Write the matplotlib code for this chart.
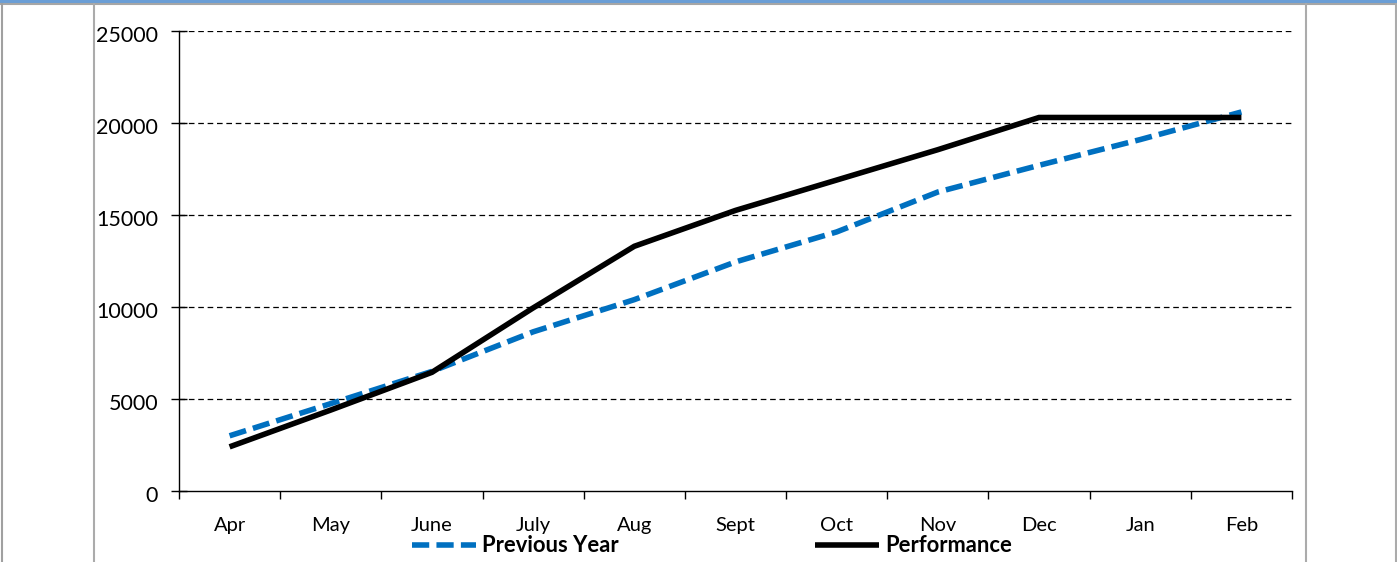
import matplotlib
matplotlib.use("Agg")
import matplotlib.pyplot as plt
from matplotlib.lines import Line2D
from matplotlib.patches import Rectangle
from matplotlib.ticker import FixedLocator, NullFormatter
from matplotlib.transforms import ScaledTranslation

plt.rcParams['font.family'] = ['Lato', 'DejaVu Sans']

months = ["Apr", "May", "June", "July", "Aug", "Sept", "Oct", "Nov", "Dec", "Jan", "Feb"]
previous_year = [3000, 4750, 6500, 8650, 10400, 12450, 14080, 16250, 17700, 19100, 20600]
performance = [2400, 4400, 6450, 9950, 13300, 15250, 16900, 18550, 20300, 20300, 20300]
y_ticks = [0, 5000, 10000, 15000, 20000, 25000]

W, H = 1397, 562
fig = plt.figure(figsize=(W / 100, H / 100), dpi=100)

def fx(px):
    return px / W

def fy(py):
    return 1 - py / H

# Worksheet-style frame around the chart
fig.add_artist(Rectangle((0, fy(3)), 1, 3 / H, transform=fig.transFigure,
                         facecolor="#6A9ED6", edgecolor="none"))
fig.add_artist(Line2D([0, 1], [fy(4), fy(4)], transform=fig.transFigure,
                      color="#A6A6A6", lw=1.5))
for xpx, col in [(2, "#A0A0A0"), (93.5, "#ABABAB"), (1305.5, "#ABABAB"), (1395.5, "#ABABAB")]:
    fig.add_artist(Line2D([fx(xpx), fx(xpx)], [0, fy(4)], transform=fig.transFigure,
                          color=col, lw=1.5))

ax = fig.add_axes([fx(179), fy(491), fx(1292) - fx(179), fy(31) - fy(491)])

LW = 4.0
x = list(range(len(months)))
ax.plot(x, previous_year, color="#0070C0", lw=LW, dashes=(3.1, 1.3),
        solid_capstyle="butt", dash_capstyle="butt", label="Previous Year", zorder=3)
ax.plot(x, performance, color="black", lw=LW, solid_capstyle="butt",
        solid_joinstyle="miter", label="Performance", zorder=4)

ax.set_xlim(-0.5, len(months) - 0.5)
ax.set_ylim(0, 25000)

ax.xaxis.set_major_locator(FixedLocator([i - 0.5 for i in range(len(months) + 1)]))
ax.xaxis.set_major_formatter(NullFormatter())
ax.xaxis.set_minor_locator(FixedLocator(x))
ax.set_xticklabels(months, minor=True)
ax.tick_params(axis="x", which="major", direction="out", length=6, width=1, color="black")
ax.tick_params(axis="x", which="minor", length=0, pad=19, labelsize=14.5)

ax.set_yticks(y_ticks)
ax.set_yticklabels([str(v) for v in y_ticks])
ax.tick_params(axis="y", direction="inout", length=12, width=1, color="black",
               pad=9, labelsize=15.5)
# value labels sit a little below their tick marks
shift = ScaledTranslation(0, -3 / 100, fig.dpi_scale_trans)
for lbl in ax.get_yticklabels():
    lbl.set_transform(lbl.get_transform() + shift)

for v in y_ticks[1:]:
    ax.axhline(v, color="black", lw=0.9, dashes=(4.5, 3), zorder=1)

for s in ["top", "right"]:
    ax.spines[s].set_visible(False)
for s in ["left", "bottom"]:
    ax.spines[s].set_color("black")
    ax.spines[s].set_linewidth(1)

# Legend entries laid out horizontally below the axis labels
leg_y = fy(545)
for x0, x1, name, kw in [
    (412, 476, "Previous Year", dict(color="#0070C0", dashes=(3.1, 1.3))),
    (815, 879, "Performance", dict(color="black")),
]:
    fig.add_artist(Line2D([fx(x0), fx(x1)], [leg_y, leg_y], transform=fig.transFigure,
                          lw=LW, solid_capstyle="butt", dash_capstyle="butt", **kw))
    fig.text(fx(x1 + 6), leg_y, name, fontsize=15.8, fontweight="bold",
             ha="left", va="center")

fig.savefig("out.png", dpi=100)
